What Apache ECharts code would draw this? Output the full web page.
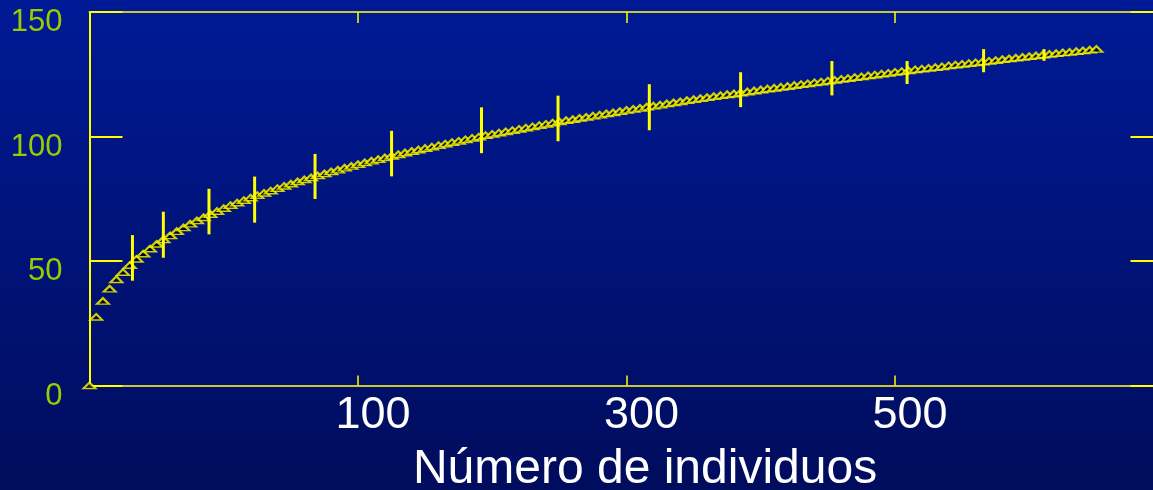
<!DOCTYPE html>
<html>
<head>
<meta charset="utf-8">
<script src="https://cdn.jsdelivr.net/npm/echarts@6/dist/echarts.min.js"></script>
<style>
  html, body { margin: 0; padding: 0; background: #000c5c; }
  #chart { width: 1153px; height: 490px; }
</style>
</head>
<body>
<div id="chart"></div>
<script>
// ---- data ----
const xStart = -100;          // first sample position on the x axis
const xStep = 5;              // spacing between samples
const speciesValues = [
  0, 27.5, 33.9, 38.8, 42.6, 45.5, 48.3, 50.8, 52.9, 54.9,
  56.8, 58.6, 60.2, 61.9, 63.4, 64.9, 66.2, 67.5, 68.8, 70.0,
  71.2, 72.4, 73.4, 74.4, 75.4, 76.4, 77.3, 78.2, 79.2, 80.1,
  81.0, 81.9, 82.7, 83.5, 84.3, 85.1, 85.9, 86.6, 87.4, 88.1,
  88.8, 89.5, 90.2, 90.8, 91.5, 92.2, 92.8, 93.5, 94.1, 94.7,
  95.3, 95.9, 96.5, 97.1, 97.7, 98.2, 98.8, 99.4, 99.9, 100.5,
  101.0, 101.5, 102.0, 102.5, 103.0, 103.5, 104.0, 104.5, 105.0, 105.5,
  106.0, 106.5, 106.9, 107.4, 107.8, 108.3, 108.7, 109.2, 109.6, 110.1,
  110.6, 111.0, 111.4, 111.9, 112.3, 112.7, 113.2, 113.6, 114.0, 114.5,
  114.9, 115.3, 115.7, 116.1, 116.5, 116.9, 117.2, 117.6, 118.0, 118.4,
  118.8, 119.2, 119.5, 119.9, 120.2, 120.6, 121.0, 121.3, 121.7, 122.0,
  122.4, 122.7, 123.1, 123.4, 123.8, 124.1, 124.5, 124.8, 125.2, 125.5,
  125.9, 126.2, 126.5, 126.9, 127.2, 127.5, 127.8, 128.1, 128.5, 128.8,
  129.1, 129.4, 129.7, 130.0, 130.3, 130.6, 131.0, 131.3, 131.6, 131.9,
  132.2, 132.5, 132.8, 133.1, 133.4, 133.7, 133.9, 134.2, 134.5, 134.8,
  135.1
];
const errX    = [-68, -45, -11, 23, 68, 125, 192, 249, 317, 385, 453, 509, 566, 611];
const errLow  = [42.1, 51.3, 60.7, 65.4, 74.9, 84.0, 93.3, 98.1, 102.5, 111.8, 116.5, 121.1, 125.8, 130.4];
const errHigh = [60.4, 69.8, 79.0, 83.9, 93.0, 102.3, 111.7, 116.4, 121.0, 125.8, 130.3, 130.3, 135.1, 135.1];
const xTickLabels = ['100', '300', '500'];
const yTickLabels = ['0', '50', '100', '150'];
const xAxisTitle = 'Número de individuos';

// ---- build ----
const curveData = speciesValues.map((v, i) => [xStart + i * xStep, v]);
const errData = errX.map((x, i) => [x, errLow[i], errHigh[i]]);

const FONT = "'Liberation Sans', Arial, sans-serif";
const YEL = '#ffff00';
const DULL = '#c9c832';

const chart = echarts.init(document.getElementById('chart'), null, { renderer: 'canvas' });
chart.setOption({
  animation: false,
  backgroundColor: {
    type: 'linear', x: 0, y: 0, x2: 0, y2: 1,
    colorStops: [{ offset: 0, color: '#001a96' }, { offset: 1, color: '#000c5c' }]
  },
  grid: { left: 89.5, top: 12, right: -10.5, bottom: 104.5, containLabel: false, outerBoundsMode: 'none' },
  xAxis: [{
    type: 'value', position: 'bottom', min: -100, max: 700, interval: 200,
    name: xAxisTitle, nameLocation: 'middle', nameGap: 60,
    nameTextStyle: { color: '#ffffff', fontSize: 48, fontFamily: FONT, padding: [0, 0, 0, 37] },
    axisLine: { show: true, onZero: false, lineStyle: { color: DULL, width: 2 } },
    axisTick: { show: true, inside: true, length: 10, lineStyle: { color: YEL, width: 1.5 } },
    axisLabel: {
      color: '#ffffff', fontSize: 45, fontFamily: FONT, margin: 8, padding: [0, 0, 0, 30],
      formatter: v => (xTickLabels.includes(String(v)) ? String(v) : '')
    },
    splitLine: { show: false }
  }, {
    type: 'value', position: 'top', min: -100, max: 700, interval: 200,
    axisLine: { show: true, onZero: false, lineStyle: { color: DULL, width: 2 } },
    axisTick: { show: true, inside: true, length: 11, lineStyle: { color: YEL, width: 1.5 } },
    axisLabel: { show: false },
    splitLine: { show: false }
  }],
  yAxis: [{
    type: 'value', position: 'left', min: 0, max: 150, interval: 50,
    axisLine: { show: true, onZero: false, lineStyle: { color: YEL, width: 2 } },
    axisTick: { show: true, inside: true, length: 33, lineStyle: { color: YEL, width: 2 } },
    axisLabel: {
      color: '#99cc00', fontSize: 31, fontFamily: FONT, margin: 27,
      verticalAlign: 'top', lineHeight: 21,
      formatter: v => (yTickLabels.includes(String(v)) ? String(v) : '')
    },
    splitLine: { show: false }
  }, {
    type: 'value', position: 'right', min: 0, max: 150, interval: 50,
    axisLine: { show: true, onZero: false, lineStyle: { color: DULL, width: 2 } },
    axisTick: { show: true, inside: true, length: 33, lineStyle: { color: YEL, width: 2 } },
    axisLabel: { show: false },
    splitLine: { show: false }
  }],
  series: [{
    type: 'scatter',
    data: curveData,
    xAxisIndex: 0, yAxisIndex: 0,
    symbol: 'triangle',
    symbolSize: [12, 6],
    itemStyle: { color: '#000000', borderColor: YEL, borderWidth: 2 },
    z: 3
  }, {
    type: 'custom',
    data: errData,
    xAxisIndex: 0, yAxisIndex: 0,
    z: 4,
    renderItem: function (params, api) {
      const p1 = api.coord([api.value(0), api.value(1)]);
      const p2 = api.coord([api.value(0), api.value(2)]);
      return {
        type: 'line',
        shape: { x1: p1[0], y1: p1[1], x2: p2[0], y2: p2[1] },
        style: { stroke: YEL, lineWidth: 3 }
      };
    }
  }]
});
</script>
</body>
</html>
